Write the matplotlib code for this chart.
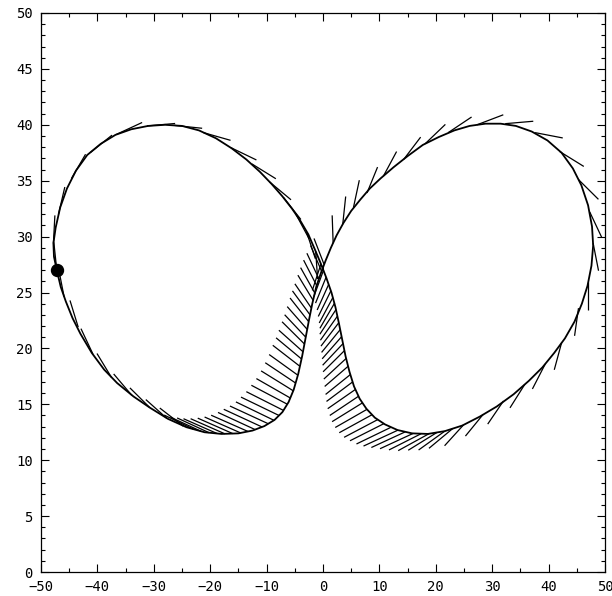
import numpy as np
import matplotlib
matplotlib.use("Agg")
import matplotlib.pyplot as plt
from matplotlib.collections import LineCollection
from matplotlib.ticker import MultipleLocator

# ---------------- data ----------------
track_x = [-47.2, -46.5, -45.6, -44.4, -43.0, -41.0, -38.8, -36.5, -33.6, -30.7,
           -27.5, -24.2, -21.0, -18.0, -15.0, -12.5, -10.4, -8.6, -7.2, -6.1,
           -5.2, -4.4, -3.7, -3.1, -2.5, -1.9, -1.2, -0.4, 0.5, 1.4,
           2.4, 3.6, 5.0, 6.6, 8.3, 10.2, 12.5, 15.0, 17.7, 20.5,
           23.3, 26.0, 28.8, 31.5, 34.2, 37.0, 39.8, 42.3, 44.3, 45.8,
           47.0, 47.7, 47.9, 47.6, 46.9, 45.9, 44.6, 42.9, 41.0, 38.9,
           36.5, 33.8, 30.8, 27.8, 24.7, 21.6, 18.6, 15.8, 13.2, 11.0,
           9.2, 7.7, 6.5, 5.5, 4.7, 4.0, 3.4, 2.8, 2.2, 1.5,
           0.6, -0.4, -1.4, -2.6, -4.0, -5.5, -7.2, -9.1, -11.2, -13.6,
           -16.2, -19.0, -22.0, -25.0, -28.0, -31.0, -34.0, -36.8, -39.4, -41.8,
           -43.8, -45.4, -46.6, -47.4, -47.8, -47.7, -47.2]
track_y = [27.0, 25.5, 24.2, 22.7, 21.3, 19.6, 18.1, 16.9, 15.7, 14.7,
           13.7, 12.95, 12.5, 12.35, 12.4, 12.65, 13.05, 13.6, 14.3, 15.2,
           16.3, 17.7, 19.3, 20.9, 22.5, 24.0, 25.5, 26.7, 27.9, 29.0,
           30.1, 31.2, 32.3, 33.3, 34.3, 35.2, 36.2, 37.2, 38.2, 38.9,
           39.5, 39.9, 40.1, 40.1, 39.9, 39.4, 38.6, 37.5, 36.1, 34.6,
           32.8, 30.9, 29.2, 27.4, 25.6, 24.0, 22.4, 20.9, 19.6, 18.3,
           17.1, 15.9, 14.8, 13.9, 13.1, 12.6, 12.35, 12.4, 12.7, 13.2,
           13.8, 14.6, 15.5, 16.6, 17.9, 19.3, 20.8, 22.3, 23.7, 25.0,
           26.3, 27.6, 28.8, 30.2, 31.4, 32.5, 33.6, 34.7, 35.8, 36.9,
           37.9, 38.8, 39.5, 39.9, 40.0, 39.9, 39.6, 39.1, 38.3, 37.3,
           35.9, 34.3, 32.6, 30.8, 29.4, 28.2, 27.0]

# heading marks: anchor on the track, direction (degrees, screen sense)
# and relative length
mark_x = [-47.2, -45.9, -43.4, -40.8, -37.5, -33.9, -30.7, -27.7, -24.8,
          # left slow part
          -23.0, -21.6, -20.2, -18.8, -17.4, -16.0, -14.6, -13.3, -12.0, -10.8,
          -9.7, -8.7, -7.8, -7.0, -6.3, -5.75, -5.25, -4.85, -4.45, -4.1,
          -3.8, -3.55, -3.3, -3.05, -2.8, -2.55, -2.3, -2.05, -1.75, -1.45,
          -1.1, -0.7, -0.25, 0.2,
          # right loop, fast part
          1.8, 3.5, 5.4, 7.8, 10.7, 14.3, 18.1, 22.2, 27.3, 32.3, 37.6,
          42.0, 45.3, 47.3, 47.9, 47.0, 45.3, 42.3, 39.4, 35.8, 32.0, 28.4, 24.9,
          # right slow part
          23.0, 21.6, 20.2, 18.8, 17.4, 16.0, 14.6, 13.3, 12.0, 10.8,
          9.7, 8.7, 7.8, 7.0, 6.3, 5.75, 5.25, 4.85, 4.45, 4.1,
          3.8, 3.55, 3.3, 3.05, 2.8, 2.55, 2.3, 2.05, 1.75, 1.4,
          1.0, 0.55, 0.1, -0.35,
          # left loop, upper part
          -1.3, -2.9, -4.8, -7.0, -9.5, -12.6, -16.3, -21.2, -26.4, -31.2,
          -36.6, -41.3, -44.6, -46.9, -47.8]
mark_y = [27.0, 24.6, 21.9, 19.5, 17.4, 15.8, 14.7, 13.75, 13.05,
          12.78, 12.58, 12.46, 12.39, 12.36, 12.38, 12.44, 12.57, 12.73, 12.97,
          13.26, 13.57, 14.0, 14.45, 15.0, 15.55, 16.2, 16.9, 17.6, 18.4,
          19.05, 19.7, 20.4, 21.0, 21.7, 22.4, 23.0, 23.6, 24.3, 24.95,
          25.6, 26.2, 26.9, 27.5,
          29.4, 31.1, 32.6, 33.9, 35.4, 36.9, 38.3, 39.3, 40.0, 40.1, 39.3,
          37.6, 35.1, 32.2, 29.4, 25.9, 23.6, 20.5, 18.6, 16.8, 15.3, 14.1, 13.15,
          12.83, 12.6, 12.48, 12.37, 12.37, 12.4, 12.54, 12.69, 12.93, 13.27,
          13.63, 14.07, 14.55, 15.13, 15.72, 16.33, 17.0, 17.66, 18.4, 19.1,
          19.8, 20.43, 21.05, 21.68, 22.3, 22.88, 23.47, 24.05, 24.55, 25.15,
          25.72, 26.37, 27.0, 27.57,
          28.7, 30.4, 32.0, 33.5, 34.9, 36.5, 37.95, 39.3, 39.95, 39.9,
          39.15, 37.5, 35.2, 32.0, 29.4]
mark_deg = [96, 101, 107, 115, 121, 130, 135, 138, 142,
            154, 155, 155, 156, 156, 156, 156, 156, 155, 155,
            155, 154, 154, 153, 152, 150, 148, 146, 144, 142,
            140, 138, 135, 133, 131, 128, 126, 124, 121, 119,
            117, 115, 113, 111,
            92, 84, 78, 68, 62, 53, 44, 34, 21, 5, -11,
            -32, -45, -65, -79, -90, -98, -105, -117, -122, -124, -129, -132,
            -140, -144, -148, -151, -153, -155, -155, -155, -154, -153,
            -152, -151, -150, -148, -146, -145, -143, -141, -139, -137,
            -135, -133, -131, -129, -127, -125, -123, -120, -118, -116,
            -114, -112, -110, -108,
            -86, -72, -62, -52, -40, -32, -26, -16, -6, 5,
            25, 39, 60, 77, 87]
mark_len = [1.0, 1.0, 1.0, 1.0, 1.0, 1.0, 1.0, 1.0, 1.05,
            1.15, 1.2, 1.25, 1.3, 1.33, 1.36, 1.4, 1.43, 1.46, 1.5,
            1.5, 1.5, 1.5, 1.48, 1.45, 1.4, 1.35, 1.3, 1.26, 1.22,
            1.18, 1.15, 1.12, 1.1, 1.08, 1.07, 1.06, 1.05, 1.05, 1.04,
            1.03, 1.02, 1.0, 1.0,
            1.0, 1.0, 1.0, 1.0, 1.0, 1.0, 1.0, 1.0, 1.0, 1.0, 1.0,
            1.0, 1.0, 1.0, 1.0, 1.0, 1.0, 1.0, 1.0, 1.0, 1.0, 1.0, 1.0,
            1.1, 1.15, 1.2, 1.25, 1.28, 1.3, 1.33, 1.35, 1.35, 1.35,
            1.35, 1.33, 1.3, 1.27, 1.23, 1.2, 1.16, 1.13, 1.1, 1.08,
            1.07, 1.06, 1.05, 1.05, 1.05, 1.05, 1.05, 1.04, 1.03, 1.02,
            1.0, 1.0, 1.0, 1.0,
            1.0, 1.0, 1.0, 1.0, 1.0, 1.0, 1.0, 1.0, 1.0, 1.0,
            1.0, 1.0, 1.0, 1.0, 1.0]

start_x = [-47.2]
start_y = [27.0]

x_ticks = [-50, -40, -30, -20, -10, 0, 10, 20, 30, 40, 50]
y_ticks = [0, 5, 10, 15, 20, 25, 30, 35, 40, 45, 50]

# ---------------- figure ----------------
fig = plt.figure(figsize=(6.12, 5.96), dpi=100)
ax = fig.add_axes([41 / 612, 1 - 572 / 596, 564 / 612, 559 / 596])
ax.set_xlim(-50, 50)
ax.set_ylim(0, 50)

ax.plot(track_x, track_y, color="black", lw=1.3, solid_joinstyle="round")

# unit mark: same on-screen length whatever the direction
seg_len_x = 5.0   # data units along x for a horizontal unit mark
seg_len_y = 2.5   # data units along y for a vertical unit mark
ang = np.radians(np.array(mark_deg, dtype=float))
ml = np.array(mark_len)
mx = np.array(mark_x)
my = np.array(mark_y)
ex = mx + ml * seg_len_x * np.cos(ang)
ey = my + ml * seg_len_y * np.sin(ang)
segs = [[(a, b), (c, d)] for a, b, c, d in zip(mx, my, ex, ey)]
ax.add_collection(LineCollection(segs, colors="black", linewidths=0.9))

ax.plot(start_x, start_y, "o", color="black", ms=8.6)

ax.set_xticks(x_ticks)
ax.set_yticks(y_ticks)
ax.xaxis.set_minor_locator(MultipleLocator(5))
ax.yaxis.set_minor_locator(MultipleLocator(1))
ax.tick_params(which="both", direction="in", top=True, right=True, width=0.8)
ax.tick_params(which="major", length=5.5, labelsize=10, pad=6)
ax.tick_params(which="minor", length=3)
for lab in ax.get_xticklabels() + ax.get_yticklabels():
    lab.set_family("DejaVu Sans Mono")
for s in ax.spines.values():
    s.set_linewidth(0.9)

fig.savefig("out.png", dpi=100)
